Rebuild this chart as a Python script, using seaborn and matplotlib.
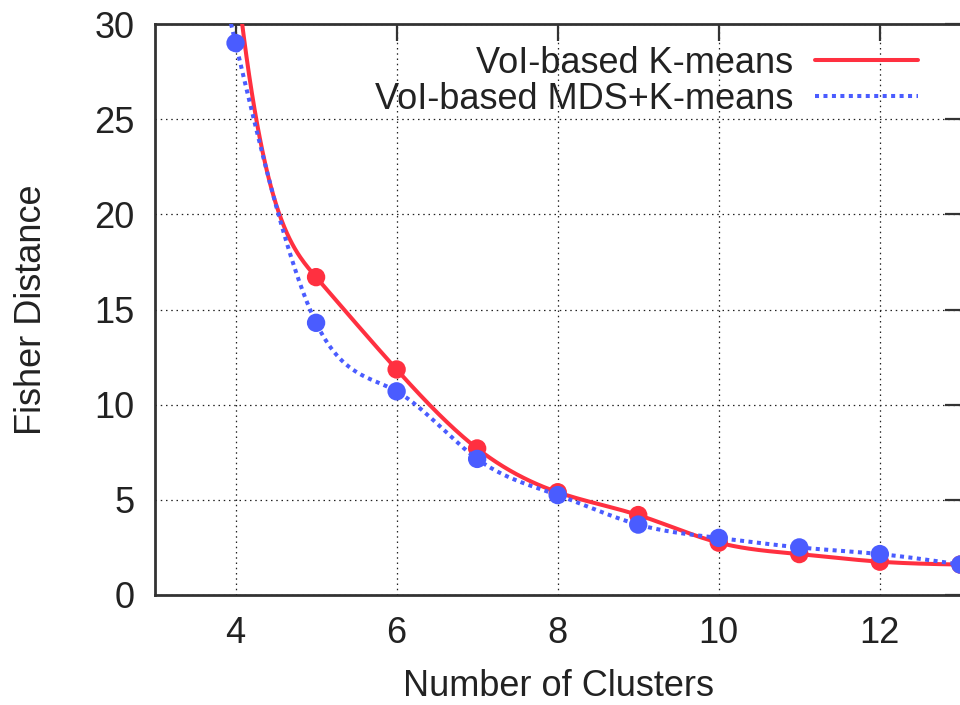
import numpy as np
import pandas as pd
import matplotlib
matplotlib.use("Agg")
import matplotlib.pyplot as plt
import seaborn as sns

# data (x=3 and the red x=4 value lie above the plotted range)
clusters = [3, 4, 5, 6, 7, 8, 9, 10, 11, 12, 13]
kmeans = [95.0, 33.0, 16.7, 11.85, 7.7, 5.4, 4.2, 2.75, 2.15, 1.75, 1.6]
mds_kmeans = [47.0, 29.0, 14.3, 10.7, 7.15, 5.25, 3.7, 3.0, 2.5, 2.15, 1.6]
labels = ["VoI-based K-means", "VoI-based MDS+K-means"]
red = "#ff3040"
blue = "#4a5cff"


def natural_spline(x, y, n=600):
    # natural cubic spline, like gnuplot "smooth csplines"
    x = np.asarray(x, float)
    y = np.asarray(y, float)
    k = len(x)
    h = np.diff(x)
    A = np.zeros((k, k))
    b = np.zeros(k)
    A[0, 0] = A[-1, -1] = 1
    for i in range(1, k - 1):
        A[i, i - 1] = h[i - 1]
        A[i, i] = 2 * (h[i - 1] + h[i])
        A[i, i + 1] = h[i]
        b[i] = 6 * ((y[i + 1] - y[i]) / h[i] - (y[i] - y[i - 1]) / h[i - 1])
    M = np.linalg.solve(A, b)
    xs = np.linspace(x[0], x[-1], n)
    idx = np.clip(np.searchsorted(x, xs) - 1, 0, k - 2)
    x0, x1 = x[idx], x[idx + 1]
    hh = x1 - x0
    t0, t1 = x1 - xs, xs - x0
    ys = (M[idx] * t0 ** 3 + M[idx + 1] * t1 ** 3) / (6 * hh) \
        + (y[idx] / hh - M[idx] * hh / 6) * t0 \
        + (y[idx + 1] / hh - M[idx + 1] * hh / 6) * t1
    return xs, ys


sns.set_theme(style="white")
plt.rcParams["font.family"] = ["Liberation Sans", "DejaVu Sans"]

fig = plt.figure(figsize=(9.6, 7.05), dpi=100)
ax = fig.add_axes([155 / 960, 1 - 595 / 705, 807 / 960, 571 / 705])

pts = pd.DataFrame({"clusters": clusters, "km": kmeans, "mds": mds_kmeans})
xs, ys_red = natural_spline(clusters, kmeans)
_, ys_blue = natural_spline(clusters, mds_kmeans)
smooth = pd.DataFrame({"x": xs, "red": ys_red, "blue": ys_blue})

sns.lineplot(data=smooth, x="x", y="red", color=red, lw=2.9, ax=ax,
             label=labels[0], zorder=3)
sns.scatterplot(data=pts, x="clusters", y="km", color=red, s=175,
                edgecolor="none", ax=ax, zorder=3, legend=False)
sns.lineplot(data=smooth, x="x", y="blue", color=blue, lw=2.9, ax=ax,
             label=labels[1], zorder=4)
ax.lines[-1].set_dashes([1.0, 1.1])
sns.scatterplot(data=pts, x="clusters", y="mds", color=blue, s=175,
                edgecolor="none", ax=ax, zorder=4, legend=False)

ax.set_xlim(3, 13.02)
ax.set_ylim(0, 30)
ax.set_xticks([4, 6, 8, 10, 12])
ax.set_yticks(range(0, 31, 5))
ax.grid(True, color="#222222", linestyle=(0, (1.2, 3)), linewidth=0.9)
ax.tick_params(direction="in", length=12, width=1.6, color="#333333",
               labelsize=26, labelcolor="#222222", pad=15,
               top=True, right=True)
for s in ax.spines.values():
    s.set_color("#333333")
    s.set_linewidth(2)

ax.set_xlabel("Number of Clusters", fontsize=26, color="#222222", labelpad=13)
ax.set_ylabel("Fisher Distance", fontsize=26, color="#222222", labelpad=32)

leg = ax.legend(loc="upper right", bbox_to_anchor=(0.945, 0.9615),
                frameon=False, markerfirst=False, fontsize=26,
                handlelength=2.85, labelspacing=0.03, handletextpad=0.6,
                borderaxespad=0, borderpad=0)
for t in leg.get_texts():
    t.set_color("#222222")

fig.savefig("out.png", dpi=100)
